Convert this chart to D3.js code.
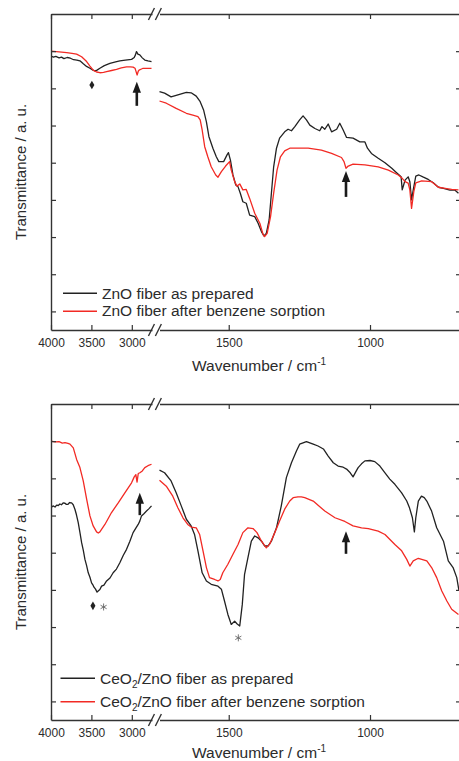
<!DOCTYPE html>
<html>
<head>
<meta charset="utf-8">
<script src="https://cdn.jsdelivr.net/npm/d3@7/dist/d3.min.js"></script>
<style>
  body { margin: 0; background: #fff; }
  text { font-family: "Liberation Sans", Arial, sans-serif; fill: #2b2b2b; }
</style>
</head>
<body>
<svg id="chart" width="459" height="761"></svg>
<script>
// ---------- FTIR spectra (wavenumber in cm^-1, transmittance in a.u.) ----------

// ZnO fiber as prepared
const znoPrepWn = [4000,3970,3940,3900,3870,3840,3800,3760,3720,3680,3642,3600,3560,3518,3480,3457,3430,3395,3340,3271,3200,3148,3080,3003,2970,2955,2942,2925,2901,2870,2839,2800,2756,
  1745,1727,1704,1674,1650,1633,1615,1601,1589,1579,1570,1556,1544,1535,1518,1506,1501,1494,1485,1475,1467,1459,1450,1438,1426,1408,1396,1384,1375,1367,1357,1349,1341,1331,1320,1302,1290,1278,1266,1249,1237,1225,1213,1195,1178,1170,1160,1148,1136,1118,1107,1095,1083,1060,1036,1018,1009,995,971,947,923,906,890,886,881,876,865,859,853,847,838,827,811,794,776,758,740,717,699,687];
const znoPrepT = [73.7,73.4,73.6,73.2,73.4,73.0,73.3,73.1,72.7,72.6,72.4,71.6,70.9,70.4,69.9,69.7,69.9,70.4,71.1,71.7,72.1,72.4,72.6,72.8,73.3,74.0,74.9,74.2,74.0,73.2,72.6,72.4,72.2,
  64.1,63.7,62.7,63.4,63.9,63.8,62.9,61.4,59.2,56.0,52.0,48.9,46.6,45.3,45.3,47.1,47.7,45.7,41.7,39.0,38.5,36.8,34.5,34.1,30.9,30.5,28.7,26.4,25.3,26.0,29.6,36.8,43.9,48.9,51.6,53.3,54.0,53.6,54.7,56.5,57.6,56.5,55.1,54.2,53.6,54.7,54.0,55.4,53.3,54.0,55.6,53.8,51.8,51.6,50.6,50.6,48.9,47.5,46.2,45.0,43.5,42.3,41.2,37.7,39.0,40.3,41.2,39.9,35.0,37.7,41.4,41.7,41.1,40.5,39.6,38.4,38.1,37.6,37.6,36.8];

// ZnO fiber after benzene sorption
const znoSorbWn = [4000,3900,3806,3740,3683,3621,3559,3518,3478,3436,3395,3350,3312,3250,3189,3130,3065,3020,2984,2960,2950,2934,2920,2910,2880,2860,2800,2756,
  1745,1721,1686,1650,1627,1609,1601,1594,1585,1574,1562,1546,1538,1526,1511,1497,1491,1479,1471,1461,1450,1438,1426,1408,1390,1378,1373,1364,1352,1341,1329,1317,1302,1284,1249,1219,1172,1136,1101,1092,1085,1077,1060,1018,971,935,900,886,876,865,859,853,845,838,817,782,758,734,711,687];
const znoSorbT = [75.0,74.8,74.6,74.4,74.2,73.5,72.2,71.0,69.9,69.4,69.2,69.3,69.5,69.8,70.1,70.5,70.8,70.8,70.7,70.4,69.7,68.6,69.6,69.9,70.2,70.4,70.4,70.4,
  61.6,61.0,59.6,58.3,57.8,57.4,56.5,53.8,49.3,46.6,43.9,41.7,41.1,42.6,44.1,45.3,43.0,39.9,38.7,39.3,37.7,37.8,35.4,31.4,28.7,25.6,25.1,26.0,30.5,36.8,43.0,46.6,48.2,48.9,48.9,48.9,48.4,47.5,46.4,45.3,43.5,44.1,44.6,44.4,43.9,43.0,41.7,40.8,39.9,39.5,37.7,32.7,37.2,39.6,40.1,39.9,38.4,38.1,37.8,37.7];

// CeO2/ZnO fiber as prepared
const ceoPrepWn = [4000,3975,3950,3930,3910,3890,3870,3850,3827,3810,3790,3770,3745,3725,3704,3685,3663,3640,3621,3600,3580,3560,3539,3518,3498,3480,3470,3449,3430,3416,3395,3374,3345,3312,3270,3231,3190,3148,3105,3065,3025,2984,2950,2921,2901,2880,2850,2818,2790,2756,
  1745,1727,1704,1686,1668,1650,1633,1621,1609,1594,1579,1562,1538,1526,1515,1503,1491,1479,1471,1461,1452,1444,1432,1420,1408,1396,1384,1373,1361,1349,1331,1314,1296,1278,1260,1249,1225,1201,1184,1165,1148,1130,1113,1095,1083,1070,1060,1050,1042,1030,1018,1000,983,965,947,930,912,888,870,860,850,843,838,829,818,808,799,782,764,740,723,706,693,685];
const ceoPrepT = [57.1,57.6,57.3,57.8,57.7,58.1,57.9,58.4,58.3,58.0,58.0,58.5,58.4,57.9,56.7,55.2,53.1,50.2,47.7,45.6,43.2,41.6,39.6,38.4,36.9,36.3,35.8,35.2,34.4,34.7,35.1,36.0,36.3,37.4,38.2,39.6,40.6,42.3,44.3,45.9,48.0,50.4,51.6,52.6,53.5,54.9,55.5,56.2,56.8,57.6,
  67.2,66.5,64.3,61.1,57.6,54.0,52.2,49.9,45.5,39.6,37.4,36.5,36.0,35.2,32.0,28.4,25.7,26.6,25.9,25.3,31.1,39.2,43.7,48.1,49.5,49.0,48.1,46.8,46.8,48.1,51.7,57.6,65.2,69.2,72.4,74.2,74.9,74.2,73.7,72.9,71.0,69.2,68.3,68.0,67.5,66.5,65.4,66.8,67.9,68.9,69.7,69.8,69.5,68.3,66.5,64.8,63.4,61.1,58.9,57.0,54.4,50.6,54.4,58.9,60.2,59.8,58.9,56.2,51.7,48.1,42.8,41.0,38.3,34.7];

// CeO2/ZnO fiber after benzene sorption
const ceoSorbWn = [4000,3950,3900,3860,3827,3790,3765,3724,3683,3642,3601,3559,3518,3478,3436,3415,3395,3333,3251,3168,3086,3003,2970,2950,2935,2920,2900,2870,2839,2800,2756,
  1745,1721,1698,1680,1662,1645,1633,1615,1603,1591,1579,1568,1550,1538,1530,1521,1503,1485,1467,1450,1432,1414,1400,1384,1367,1355,1337,1320,1302,1284,1272,1255,1243,1231,1201,1160,1124,1089,1060,1030,1006,971,947,912,888,870,859,847,829,799,782,764,746,728,711,687];
const ceoSorbT = [75.0,74.8,74.9,74.5,74.6,74.4,74.2,73.2,70.1,67.9,64.3,59.4,54.9,52.2,50.6,50.3,50.6,52.6,55.8,58.4,61.1,63.8,65.4,66.0,64.0,66.3,66.5,67.0,67.9,68.4,68.8,
  64.5,62.9,60.2,57.1,54.4,52.6,51.9,51.7,49.9,45.5,41.0,38.3,37.8,37.4,37.8,39.6,41.9,44.6,47.2,50.4,51.7,51.5,50.4,48.1,46.3,47.3,50.4,53.5,56.7,58.9,59.8,60.0,60.0,59.8,58.9,56.2,54.4,53.4,52.2,51.7,51.5,50.8,49.9,47.2,45.5,43.2,41.4,42.8,43.5,42.8,41.0,38.3,34.7,32.0,29.8,28.4];

// Axis ticks
const xTicksHigh = [4000, 3500, 3000];
const xTicksLow = [1500, 1000];
const yTicks = [5, 15, 25, 35, 45, 55, 65, 75];

// Band markers: diamonds, asterisks and arrows [wavenumber, T] / [wavenumber, tail T, tip T]
const znoDiamonds = [[3494, 65.9]];
const znoAsterisks = [];
const znoArrows = [[2938, 60.3, 66.8], [1085, 35.8, 42.8]];
const ceoDiamonds = [[3481, 30.7]];
const ceoAsterisks = [[3349, 30.4], [1466, 22.1]];
const ceoArrows = [[2901, 55.1, 61.1], [1085, 44.7, 50.8]];

// ---------- layout ----------
const svg = d3.select("#chart");
const left = 51, right = 461, panelH = 316;
const BLACK = "#222", RED = "#f22a24", AXIS = "#333";

// broken wavenumber axis: high-wavenumber segment + fingerprint segment
const xHigh = d3.scaleLinear().domain([4000, 2750]).range([left, 152]);
const xLow = d3.scaleLinear().domain([1745, 678]).range([159.5, right]);
const xPos = wn => wn > 2000 ? xHigh(wn) : xLow(wn);

const panels = [
  { top: 14, titleGap: 41, series: [[znoPrepWn, znoPrepT, BLACK], [znoSorbWn, znoSorbT, RED]],
    legend: [["ZnO fiber as prepared", null], ["ZnO fiber after benzene sorption", null]],
    legX: [63, 97, 102], legLineY: [279.3, 297.3], legTextY: [284.5, 302],
    diamonds: znoDiamonds, asterisks: znoAsterisks, arrows: znoArrows },
  { top: 404, titleGap: 37.5, series: [[ceoPrepWn, ceoPrepT, BLACK], [ceoSorbWn, ceoSorbT, RED]],
    legend: [["CeO", " fiber as prepared"], ["CeO", " fiber after benzene sorption"]],
    legX: [60.5, 95, 100], legLineY: [274.3, 297.7], legTextY: [280, 302.7],
    diamonds: ceoDiamonds, asterisks: ceoAsterisks, arrows: ceoArrows }
];

panels.forEach((p, i) => {
  const bottom = p.top + panelH;
  const y = d3.scaleLinear().domain([0, 85]).range([bottom, p.top]);
  const g = svg.append("g");

  const clipId = "clip" + i;
  svg.append("clipPath").attr("id", clipId)
    .append("rect").attr("x", left).attr("y", p.top).attr("width", right - left).attr("height", panelH);

  // spectra, each drawn as two pieces on either side of the axis break
  const line = d3.line().x(d => xPos(d[0])).y(d => y(d[1]));
  const plot = g.append("g").attr("clip-path", `url(#${clipId})`);
  p.series.forEach(([wn, t, color]) => {
    const pts = d3.zip(wn, t);
    [pts.filter(d => d[0] > 2000), pts.filter(d => d[0] <= 2000)].forEach(seg => {
      plot.append("path").datum(seg).attr("d", line)
        .attr("fill", "none").attr("stroke", color).attr("stroke-width", 1.3)
        .attr("stroke-linejoin", "round");
    });
  });

  // axes (ticks point inward)
  const styleAxis = sel => {
    sel.selectAll(".domain").attr("stroke", AXIS).attr("stroke-width", 1.4);
    sel.selectAll(".tick line").attr("stroke", AXIS).attr("stroke-width", 1.2);
    sel.selectAll(".tick text").attr("font-size", 12).attr("fill", "#2b2b2b")
      .attr("font-family", '"Liberation Sans", Arial, sans-serif');
  };
  [[xHigh, xTicksHigh], [xLow, xTicksLow]].forEach(([sc, tv]) => {
    g.append("g").attr("transform", `translate(0,${bottom})`)
      .call(d3.axisBottom(sc).tickValues(tv).tickSizeInner(-5).tickSizeOuter(0).tickPadding(8.5).tickFormat(d3.format("d")))
      .call(styleAxis);
    g.append("g").attr("transform", `translate(0,${p.top})`)
      .call(d3.axisTop(sc).tickValues(tv).tickSizeInner(-5).tickSizeOuter(0).tickFormat(""))
      .call(styleAxis);
  });
  g.append("g").attr("transform", `translate(${left},0)`)
    .call(d3.axisLeft(y).tickValues(yTicks).tickSizeInner(-5).tickSizeOuter(0).tickFormat(""))
    .call(styleAxis);
  g.append("g").attr("transform", `translate(${right},0)`)
    .call(d3.axisRight(y).tickValues(yTicks).tickSizeInner(-5).tickSizeOuter(0).tickFormat(""))
    .call(styleAxis);

  // break marks "//" on top and bottom axes
  const mid = (xHigh.range()[1] + xLow.range()[0]) / 2 - 1;
  [p.top, bottom].forEach(ay => {
    [-6.3, 0.6].forEach(off => {
      g.append("line")
        .attr("x1", mid + off).attr("y1", ay + 6)
        .attr("x2", mid + off + 6).attr("y2", ay - 6)
        .attr("stroke", AXIS).attr("stroke-width", 1.4);
    });
  });

  // axis titles
  g.append("text")
    .attr("transform", `translate(26,${(p.top + bottom) / 2}) rotate(-90)`)
    .attr("text-anchor", "middle").attr("font-size", 15)
    .text("Transmittance / a. u.");
  const xt = g.append("text").attr("x", 259).attr("y", bottom + p.titleGap)
    .attr("text-anchor", "middle").attr("font-size", 15.5);
  xt.append("tspan").text("Wavenumber / cm");
  xt.append("tspan").attr("font-size", 10).attr("dy", -6).text("-1");

  // legend
  p.legend.forEach(([a, b], k) => {
    const ly = p.top + p.legLineY[k];
    g.append("line").attr("x1", p.legX[0]).attr("x2", p.legX[1]).attr("y1", ly).attr("y2", ly)
      .attr("stroke", k === 0 ? BLACK : RED).attr("stroke-width", 1.4);
    const t = g.append("text").attr("x", p.legX[2]).attr("y", p.top + p.legTextY[k]).attr("font-size", 15.5);
    t.append("tspan").text(a);
    if (b !== null) {
      t.append("tspan").attr("font-size", 10).attr("dy", 4).text("2");
      t.append("tspan").attr("dy", -4).text("/ZnO" + b);
    }
  });

  // band markers
  p.diamonds.forEach(([wn, v]) => {
    g.append("path").attr("d", d3.symbol(d3.symbolDiamond, 22)())
      .attr("transform", `translate(${xPos(wn)},${y(v)})`).attr("fill", "#222");
  });
  p.asterisks.forEach(([wn, v]) => {
    g.append("path").attr("d", d3.symbol(d3.symbolAsterisk, 34)())
      .attr("transform", `translate(${xPos(wn)},${y(v)})`)
      .attr("fill", "none").attr("stroke", "#666").attr("stroke-width", 0.9);
  });
  p.arrows.forEach(([wn, tail, tip]) => {
    const ax = xPos(wn), yTip = y(tip), yTail = y(tail);
    g.append("line").attr("x1", ax).attr("x2", ax).attr("y1", yTail).attr("y2", yTip + 9)
      .attr("stroke", "#1a1a1a").attr("stroke-width", 2.6);
    g.append("path")
      .attr("d", `M${ax},${yTip}L${ax - 4.2},${yTip + 11}L${ax + 4.2},${yTip + 11}Z`)
      .attr("fill", "#1a1a1a");
  });
});
</script>
</body>
</html>
